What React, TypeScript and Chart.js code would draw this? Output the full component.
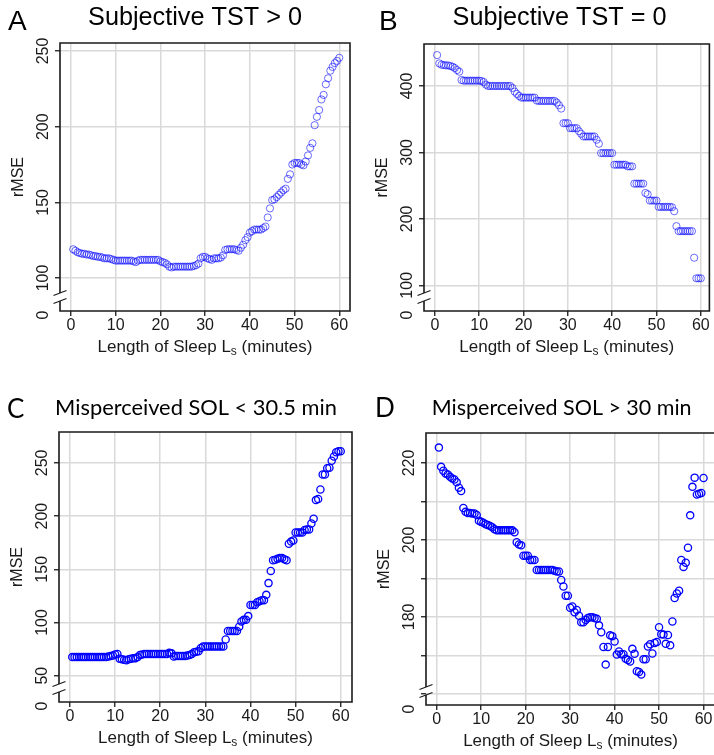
import React, { useEffect, useRef } from "react";
import { Chart, registerables } from "chart.js";

Chart.register(...registerables);

// ---------- data ----------
const LENGTH_MIN = [
  0.5, 1, 1.5, 2, 2.5, 3, 3.5, 4, 4.5, 5,
  5.5, 6, 6.5, 7, 7.5, 8, 8.5, 9, 9.5, 10,
  10.5, 11, 11.5, 12, 12.5, 13, 13.5, 14, 14.5, 15,
  15.5, 16, 16.5, 17, 17.5, 18, 18.5, 19, 19.5, 20,
  20.5, 21, 21.5, 22, 22.5, 23, 23.5, 24, 24.5, 25,
  25.5, 26, 26.5, 27, 27.5, 28, 28.5, 29, 29.5, 30,
  30.5, 31, 31.5, 32, 32.5, 33, 33.5, 34, 34.5, 35,
  35.5, 36, 36.5, 37, 37.5, 38, 38.5, 39, 39.5, 40,
  40.5, 41, 41.5, 42, 42.5, 43, 43.5, 44, 44.5, 45,
  45.5, 46, 46.5, 47, 47.5, 48, 48.5, 49, 49.5, 50,
  50.5, 51, 51.5, 52, 52.5, 53, 53.5, 54, 54.5, 55,
  55.5, 56, 56.5, 57, 57.5, 58, 58.5, 59, 59.5, 60,
];

const RMSE_A = [
  119, 118, 117, 116.5, 116, 116, 115.5, 115.5, 115, 114.5,
  114.5, 114, 114, 113.5, 113, 113, 113, 112.5, 112, 111.5,
  111.5, 111.5, 111.5, 111.5, 111.5, 111.5, 111.5, 111, 110.5, 111.5,
  112, 112, 112, 112, 112, 112, 112, 112, 112, 111,
  110.5, 110, 109, 107.5, 107, 107.5, 107.5, 107.5, 107.5, 107.5,
  107.5, 107.5, 107.5, 107.5, 108, 108.5, 109.5, 113, 114, 114,
  113, 112.5, 112, 113, 113, 113, 113.5, 115, 118.5, 119,
  119, 119, 119, 118.5, 118, 120, 122, 125, 127, 130,
  131, 132, 132, 132, 132, 133, 134, 140, 146, 151.5,
  152, 153.5, 155, 156.5, 158, 159, 165.5, 168.5, 175, 176,
  176, 176, 175, 174.5, 177, 181, 186, 189, 201, 206.5,
  211, 218, 221, 228, 232, 237, 239.5, 242, 243.5, 245.5,
];

const RMSE_B = [
  446.5, 434, 432, 431.5, 431, 431, 430, 429, 427, 424,
  421.5, 409, 408, 408, 408, 408, 408, 408, 408, 408,
  407.5, 406, 402, 400, 400, 400, 400, 400, 400, 400,
  400, 400, 400, 400, 397, 391.5, 388, 385, 382.5, 382.5,
  382.5, 382.5, 382.5, 382.5, 382.5, 378, 377.5, 377.5, 377.5, 377.5,
  377.5, 377.5, 377.5, 377.5, 375, 371, 366, 344, 344, 344,
  336.5, 336.5, 336.5, 336.5, 332, 328, 324, 324, 324, 324,
  324, 324, 319, 313, 299, 299, 299, 299, 299, 299,
  281.5, 281.5, 281.5, 281.5, 281.5, 281.5, 279, 279, 279, 253,
  253, 253, 253, 253, 239, 237, 227.5, 227.5, 227.5, 227.5,
  218, 218, 218, 218, 218, 218, 217.5, 211.5, 189, 181.5,
  181.5, 181.5, 181.5, 181.5, 181.5, 181.5, 141.5, 110.5, 110.5, 110.5,
];

const RMSE_C = [
  67.5, 67.5, 67.5, 67.5, 67.5, 67.5, 67.5, 67.5, 67.5, 67.5,
  67.5, 67.5, 67.5, 67.5, 67.5, 67.5, 68, 68.5, 69, 70,
  70.5, 66, 65.5, 65, 64.5, 65.5, 66, 66.5, 66.5, 67.5,
  69.5, 70, 70.5, 70.5, 70.5, 70.5, 70.5, 70.5, 70.5, 70.5,
  70.5, 70.5, 70.5, 71.5, 71, 68, 68.5, 68.5, 68.5, 68.5,
  68.5, 69, 69.5, 70.5, 72, 72.5, 73, 76, 77.5, 77.5,
  77.5, 77.5, 77.5, 77.5, 77.5, 77.5, 77.5, 77.5, 84, 92,
  92, 92, 92, 92, 96, 101, 102.5, 102.5, 106, 116.5,
  116.5, 116.5, 119, 120, 121, 121, 126, 137, 148.5, 158.5,
  159, 160, 160.5, 160.5, 159.5, 158.5, 174, 176, 177, 184.5,
  184.5, 184.5, 184.5, 187, 187.5, 187.5, 193, 197.5, 215, 216,
  225, 239, 239, 245, 245.5, 252, 256, 260, 261, 261,
];

const RMSE_D = [
  224, 219, 218, 217.3, 217, 216.4, 216, 215.7, 215, 213.6,
  212.7, 208.3, 207.3, 207, 207, 206.9, 206.9, 206.5, 205, 204.7,
  204.5, 204.1, 203.9, 203.6, 203.3, 202.8, 202.5, 202.5, 202.5, 202.5,
  202.5, 202.5, 202.5, 202.5, 202, 199.4, 198.8, 198.6, 195.9, 195.9,
  195.9, 194.8, 194.8, 194.8, 192.2, 192.2, 192.2, 192.2, 192.2, 192.2,
  192.2, 192.2, 192, 191.8, 191.8, 189.6, 187.9, 185.5, 185.5, 182.4,
  182.7, 181.2, 181.8, 180.3, 178.6, 178.6, 179.2, 179.7, 179.9, 179.9,
  179.7, 179.5, 177.8, 176, 172.2, 167.6, 172.2, 175.2, 175, 173.6,
  170.2, 171, 170.3, 170.3, 169.1, 168.8, 168.4, 171.7, 170.4, 165.9,
  165.7, 165, 169, 169, 172.3, 172.9, 170.5, 173.2, 173.5, 177.3,
  175.5, 175.4, 173, 175.3, 172.6, 178.8, 184.9, 186.1, 186.8, 194.8,
  193, 194.1, 198, 206.4, 213.8, 216.2, 211.8, 212, 212.2, 216.1,
];

const X_TICKS = [0, 10, 20, 30, 40, 50, 60];
const Y_TICKS_A = [100, 150, 200, 250];
const Y_LABELS_A = ["100", "150", "200", "250"];
const Y_TICKS_B = [100, 200, 300, 400];
const Y_LABELS_B = ["100", "200", "300", "400"];
const Y_TICKS_C = [50, 100, 150, 200, 250];
const Y_LABELS_C = ["50", "100", "150", "200", "250"];
const Y_TICKS_D = [160, 170, 180, 190, 200, 210, 220];
const Y_LABELS_D = ["", "", "180", "", "200", "", "220"];
const BREAK_LABEL = "0";

const TITLES = [
  "Subjective TST > 0",
  "Subjective TST = 0",
  "Misperceived SOL < 30.5 min",
  "Misperceived SOL > 30 min",
];
const LETTERS = ["A", "B", "C", "D"];
const X_TITLE_PARTS = ["Length of Sleep L", "s", " (minutes)"];
const Y_TITLE = "rMSE";

// ---------- styles / layout ----------
const INK = "#1a1a1a";
const GRID = "#d9d9d9";
const ARIAL = '"Liberation Sans", Arial, Helvetica, sans-serif';
const LATO = 'Lato, "Open Sans", sans-serif';

type Box = { x: number; y: number; w: number; h: number };
type Area = { l: number; r: number; t: number; b: number };
type PanelCfg = {
  canvas: Box;
  area: Area;
  xRange: [number, number];
  yRange: [number, number];
  values: number[];
  yTicks: number[];
  yLabels: string[];
  title: string;
  titleFamily: string;
  titleCx: number;
  titleBase: number;
  titleW: number;
  letter: string;
  letterFamily: string;
  letterSize: number;
  letterX: number;
  letterBase: number;
  pointColor: string;
  pointWidth: number;
};

const PANELS: PanelCfg[] = [
  {
    canvas: { x: 0, y: 0, w: 357, h: 377 },
    area: { l: 60, r: 350, t: 43, b: 311 },
    xRange: [-2.45, 62.4],
    yRange: [78.2, 255.3],
    values: RMSE_A,
    yTicks: Y_TICKS_A,
    yLabels: Y_LABELS_A,
    title: TITLES[0],
    titleFamily: ARIAL,
    titleCx: 195,
    titleBase: 25,
    titleW: 214,
    letter: LETTERS[0],
    letterFamily: ARIAL,
    letterSize: 28,
    letterX: 8,
    letterBase: 30,
    pointColor: "rgba(0,0,255,0.58)",
    pointWidth: 1,
  },
  {
    canvas: { x: 357, y: 0, w: 357, h: 377 },
    area: { l: 424, r: 712, t: 44, b: 311 },
    xRange: [-2.46, 61.94],
    yRange: [61.3, 463.2],
    values: RMSE_B,
    yTicks: Y_TICKS_B,
    yLabels: Y_LABELS_B,
    title: TITLES[1],
    titleFamily: ARIAL,
    titleCx: 559.5,
    titleBase: 25,
    titleW: 214,
    letter: LETTERS[1],
    letterFamily: ARIAL,
    letterSize: 28,
    letterX: 379,
    letterBase: 30,
    pointColor: "rgba(0,0,255,0.58)",
    pointWidth: 1,
  },
  {
    canvas: { x: 0, y: 377, w: 357, h: 378 },
    area: { l: 59, r: 352, t: 432, b: 702 },
    xRange: [-2.44, 62.5],
    yRange: [25.3, 279],
    values: RMSE_C,
    yTicks: Y_TICKS_C,
    yLabels: Y_LABELS_C,
    title: TITLES[2],
    titleFamily: LATO,
    titleCx: 196,
    titleBase: 415,
    titleW: 282,
    letter: LETTERS[2],
    letterFamily: LATO,
    letterSize: 26,
    letterX: 7,
    letterBase: 418,
    pointColor: "#0000ff",
    pointWidth: 1.3,
  },
  {
    canvas: { x: 357, y: 377, w: 363, h: 378 },
    area: { l: 426, r: 716, t: 433, b: 705 },
    xRange: [-2.4, 62.6],
    yRange: [157.1, 227.8],
    values: RMSE_D,
    yTicks: Y_TICKS_D,
    yLabels: Y_LABELS_D,
    title: TITLES[3],
    titleFamily: LATO,
    titleCx: 561.7,
    titleBase: 415,
    titleW: 260,
    letter: LETTERS[3],
    letterFamily: LATO,
    letterSize: 26,
    letterX: 375,
    letterBase: 417,
    pointColor: "#0000ff",
    pointWidth: 1.3,
  },
];

function rotatedLabel(ctx: CanvasRenderingContext2D, text: string, x: number, y: number) {
  ctx.save();
  ctx.translate(x, y);
  ctx.rotate(-Math.PI / 2);
  ctx.textAlign = "center";
  ctx.textBaseline = "alphabetic";
  ctx.fillText(text, 0, 0);
  ctx.restore();
}

function decor(cfg: PanelCfg) {
  return {
    id: "decor",
    afterDraw(chart: any) {
      const ctx: CanvasRenderingContext2D = chart.ctx;
      const { left, right, top, bottom } = chart.chartArea;
      const ys = chart.scales.y;
      const ox = cfg.canvas.x;
      const oy = cfg.canvas.y;
      ctx.save();

      // frame with axis break
      const b1 = bottom - 18;
      const b2 = bottom - 10;
      ctx.strokeStyle = INK;
      ctx.lineWidth = 1.6;
      ctx.beginPath();
      ctx.moveTo(left, b1);
      ctx.lineTo(left, top);
      ctx.lineTo(right, top);
      ctx.lineTo(right, bottom);
      ctx.lineTo(left, bottom);
      ctx.lineTo(left, b2);
      ctx.stroke();
      ctx.lineWidth = 1.2;
      for (const yy of [b1, b2]) {
        ctx.beginPath();
        ctx.moveTo(left - 6.5, yy + 2.5);
        ctx.lineTo(left + 6.5, yy - 2.5);
        ctx.stroke();
      }

      // y tick labels (rotated)
      ctx.fillStyle = INK;
      ctx.font = `16px ${ARIAL}`;
      cfg.yTicks.forEach((v, i) => {
        const t = cfg.yLabels[i];
        if (!t) return;
        rotatedLabel(ctx, t, left - 12, ys.getPixelForValue(v));
      });
      rotatedLabel(ctx, BREAK_LABEL, left - 12, bottom + 4);

      // y title
      rotatedLabel(ctx, Y_TITLE, left - 37, (top + bottom) / 2);

      // x title with subscript
      const big = `17px ${ARIAL}`;
      const small = `12px ${ARIAL}`;
      ctx.font = big;
      const w0 = ctx.measureText(X_TITLE_PARTS[0]).width;
      const w2 = ctx.measureText(X_TITLE_PARTS[2]).width;
      ctx.font = small;
      const w1 = ctx.measureText(X_TITLE_PARTS[1]).width;
      const total = w0 + w1 + w2;
      let xx = (left + right) / 2 - total / 2;
      const base = bottom + 41;
      ctx.textAlign = "left";
      ctx.textBaseline = "alphabetic";
      ctx.font = big;
      ctx.fillText(X_TITLE_PARTS[0], xx, base);
      xx += w0;
      ctx.font = small;
      ctx.fillText(X_TITLE_PARTS[1], xx, base + 3);
      xx += w1;
      ctx.font = big;
      ctx.fillText(X_TITLE_PARTS[2], xx, base);

      // panel title, width-fitted
      ctx.font = `100px ${cfg.titleFamily}`;
      const w100 = ctx.measureText(cfg.title).width;
      const size = (100 * cfg.titleW) / w100;
      ctx.font = `${size}px ${cfg.titleFamily}`;
      ctx.textAlign = "center";
      ctx.fillStyle = "#000";
      ctx.fillText(cfg.title, cfg.titleCx - ox, cfg.titleBase - oy);

      // panel letter
      ctx.font = `${cfg.letterSize}px ${cfg.letterFamily}`;
      ctx.textAlign = "left";
      ctx.fillText(cfg.letter, cfg.letterX - ox, cfg.letterBase - oy);

      ctx.restore();
    },
  };
}

function Panel({ cfg }: { cfg: PanelCfg }) {
  const ref = useRef<HTMLCanvasElement>(null);
  useEffect(() => {
    const el = ref.current;
    if (!el) return;
    const { canvas: cv, area } = cfg;
    const chart = new Chart(el, {
      type: "scatter",
      data: {
        datasets: [
          {
            data: LENGTH_MIN.map((x, i) => ({ x, y: cfg.values[i] })),
            pointRadius: 3.6,
            pointHoverRadius: 3.6,
            borderColor: cfg.pointColor,
            backgroundColor: "rgba(0,0,0,0)",
            borderWidth: cfg.pointWidth,
            showLine: false,
          },
        ],
      },
      options: {
        animation: false,
        responsive: false,
        maintainAspectRatio: false,
        events: [],
        layout: {
          padding: {
            left: 0,
            bottom: 0,
            top: area.t - cv.y,
            right: cv.x + cv.w - area.r,
          },
        },
        plugins: {
          legend: { display: false },
          tooltip: { enabled: false },
          title: { display: false },
        },
        scales: {
          x: {
            type: "linear",
            min: cfg.xRange[0],
            max: cfg.xRange[1],
            afterBuildTicks: (s: any) => {
              s.ticks = X_TICKS.map((v) => ({ value: v }));
            },
            afterFit: (s: any) => {
              s.height = cv.y + cv.h - area.b;
            },
            grid: {
              color: GRID,
              lineWidth: 1.5,
              tickLength: 5,
              tickColor: INK,
              tickWidth: 1.3,
            },
            border: { display: false },
            ticks: {
              font: { family: ARIAL, size: 16 },
              color: INK,
              padding: 0,
              maxRotation: 0,
              minRotation: 0,
              autoSkip: false,
              callback: (v: any) => String(v),
            },
          },
          y: {
            type: "linear",
            min: cfg.yRange[0],
            max: cfg.yRange[1],
            afterBuildTicks: (s: any) => {
              s.ticks = cfg.yTicks.map((v) => ({ value: v }));
            },
            afterFit: (s: any) => {
              s.width = area.l - cv.x;
            },
            grid: {
              color: GRID,
              lineWidth: 1.5,
              tickLength: 5,
              tickColor: INK,
              tickWidth: 1.3,
            },
            border: { display: false },
            ticks: { display: false },
          },
        },
      } as any,
      plugins: [decor(cfg)],
    });
    return () => chart.destroy();
  }, [cfg]);
  return (
    <canvas
      ref={ref}
      width={cfg.canvas.w}
      height={cfg.canvas.h}
      style={{
        position: "absolute",
        left: cfg.canvas.x,
        top: cfg.canvas.y,
        width: cfg.canvas.w,
        height: cfg.canvas.h,
      }}
    />
  );
}

export default function App() {
  return (
    <div
      style={{
        position: "fixed",
        left: 0,
        top: 0,
        width: 714,
        height: 755,
        overflow: "hidden",
        background: "#fff",
      }}
    >
      {PANELS.map((p, i) => (
        <Panel key={i} cfg={p} />
      ))}
    </div>
  );
}
